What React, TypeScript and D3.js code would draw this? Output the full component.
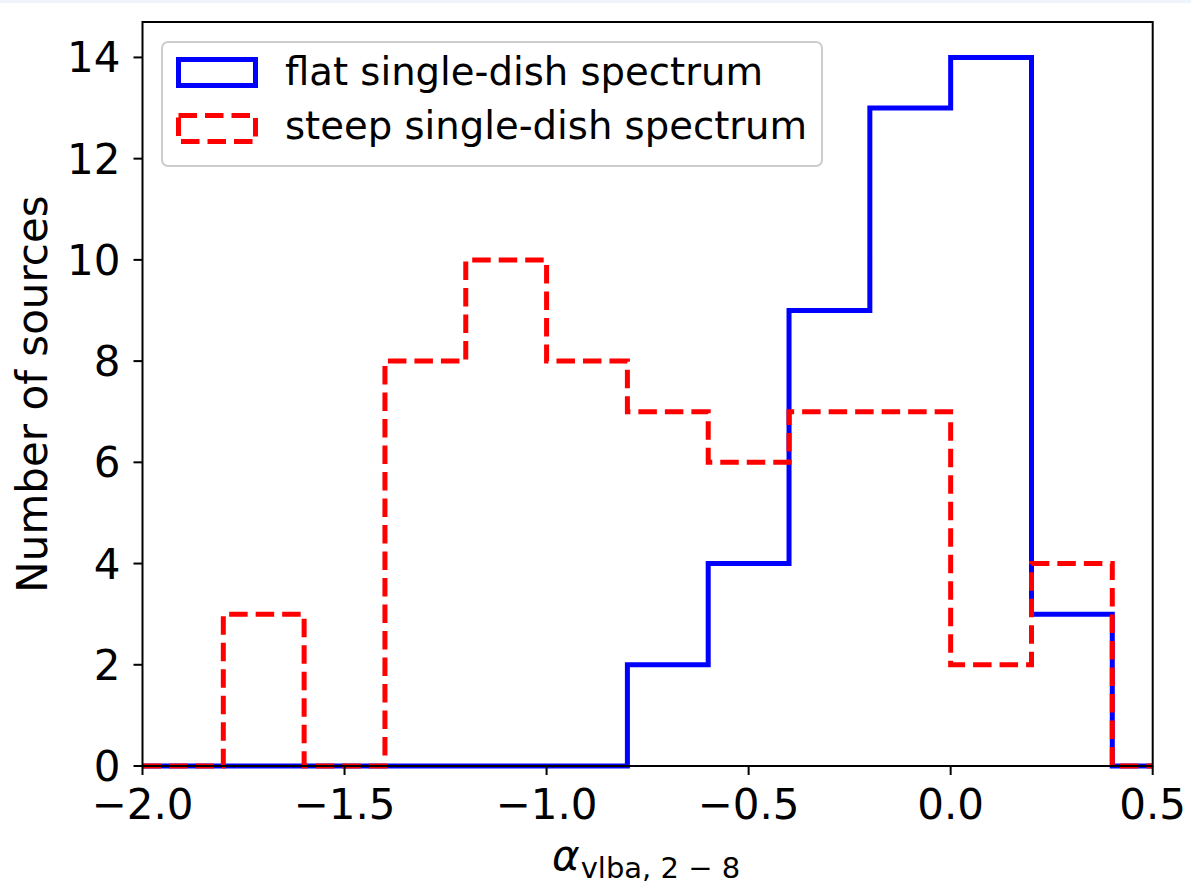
import React, { useEffect, useRef } from "react";
import * as d3 from "d3";

// histogram bins and counts
const binEdges = [-2.0, -1.8, -1.6, -1.4, -1.2, -1.0, -0.8, -0.6, -0.4, -0.2, 0.0, 0.2, 0.4, 0.6];
const flatCounts = [0, 0, 0, 0, 0, 0, 2, 4, 9, 13, 14, 3, 0];
const steepCounts = [0, 3, 0, 8, 10, 8, 7, 6, 7, 7, 2, 4, 0];
const xTicks = [-2.0, -1.5, -1.0, -0.5, 0.0, 0.5];
const yTicks = [0, 2, 4, 6, 8, 10, 12, 14];
const seriesLabels = ["flat single-dish spectrum", "steep single-dish spectrum"];

const W = 1191;
const H = 883;
const FONT = "DejaVu Sans, sans-serif";

const App = () => {
  const ref = useRef<SVGSVGElement>(null);

  useEffect(() => {
    const svg = d3.select(ref.current);
    svg.selectAll("*").remove();

    const left = 142.5, right = 1152.7, top = 22, bottom = 766;
    const x = d3.scaleLinear().domain([-2.0, 0.5]).range([left, right]);
    const y = d3.scaleLinear().domain([0, 14.7]).range([bottom, top]);

    // thin tinted strip at the very top of the image
    svg.append("rect").attr("x", 0).attr("y", 0).attr("width", W).attr("height", 3).attr("fill", "#eef4fa");

    svg.append("defs").append("clipPath").attr("id", "plotclip")
      .append("rect").attr("x", left).attr("y", top).attr("width", right - left).attr("height", bottom - top + 4);

    const stepPoints = (counts: number[]) => {
      const pts: [number, number][] = [[binEdges[0], 0]];
      counts.forEach((c, i) => {
        pts.push([binEdges[i], c]);
        pts.push([binEdges[i + 1], c]);
      });
      pts.push([binEdges[binEdges.length - 1], 0]);
      return pts;
    };

    const line = d3.line<[number, number]>().x((d) => x(d[0])).y((d) => y(d[1]));

    const plot = svg.append("g").attr("clip-path", "url(#plotclip)");
    plot.append("path")
      .attr("d", line(stepPoints(flatCounts)))
      .attr("fill", "none")
      .attr("stroke", "#0000ff")
      .attr("stroke-width", 5)
      .attr("stroke-linejoin", "miter");
    plot.append("path")
      .attr("d", line(stepPoints(steepCounts)))
      .attr("fill", "none")
      .attr("stroke", "#ff0000")
      .attr("stroke-width", 5)
      .attr("stroke-dasharray", "18.5 8")
      .attr("stroke-linejoin", "miter");

    // frame
    svg.append("rect")
      .attr("x", left).attr("y", top)
      .attr("width", right - left).attr("height", bottom - top)
      .attr("fill", "none").attr("stroke", "#000").attr("stroke-width", 2);

    // x ticks
    const xg = svg.append("g");
    xTicks.forEach((t) => {
      xg.append("line").attr("x1", x(t)).attr("x2", x(t)).attr("y1", bottom).attr("y2", bottom + 9)
        .attr("stroke", "#000").attr("stroke-width", 2);
      xg.append("text").attr("x", x(t)).attr("y", bottom + 53)
        .attr("text-anchor", "middle").attr("font-family", FONT).attr("font-size", 42)
        .text(d3.format(".1f")(t).replace("-", "\u2212"));
    });

    // y ticks
    const yg = svg.append("g");
    yTicks.forEach((t) => {
      yg.append("line").attr("x1", left - 9).attr("x2", left).attr("y1", y(t)).attr("y2", y(t))
        .attr("stroke", "#000").attr("stroke-width", 2);
      yg.append("text").attr("x", left - 22).attr("y", y(t) + 15)
        .attr("text-anchor", "end").attr("font-family", FONT).attr("font-size", 42)
        .text(String(t));
    });

    // axis labels
    svg.append("text")
      .attr("transform", `translate(47,${(top + bottom) / 2}) rotate(-90)`)
      .attr("text-anchor", "middle").attr("font-family", FONT).attr("font-size", 42)
      .text("Number of sources");

    const xl = svg.append("text")
      .attr("x", 552).attr("y", 870)
      .attr("font-family", FONT);
    xl.append("tspan").attr("font-size", 42).attr("font-style", "italic").text("\u03b1");
    xl.append("tspan").attr("font-size", 29).attr("dy", 8).attr("dx", 1).text("vlba, 2 \u2212 8");

    // legend
    const lg = svg.append("g");
    lg.append("rect")
      .attr("x", 162).attr("y", 42).attr("width", 660).attr("height", 124)
      .attr("rx", 6).attr("fill", "#fff").attr("fill-opacity", 0.8)
      .attr("stroke", "#cccccc").attr("stroke-width", 2);
    lg.append("rect")
      .attr("x", 178.5).attr("y", 59.5).attr("width", 77).attr("height", 26)
      .attr("fill", "none").attr("stroke", "#0000ff").attr("stroke-width", 5);
    lg.append("rect")
      .attr("x", 178.5).attr("y", 115.5).attr("width", 77).attr("height", 26)
      .attr("fill", "none").attr("stroke", "#ff0000").attr("stroke-width", 5)
      .attr("stroke-dasharray", "18.5 8");
    seriesLabels.forEach((s, i) => {
      lg.append("text").attr("x", 285).attr("y", 85 + i * 54)
        .attr("font-family", FONT).attr("font-size", 38.6).text(s);
    });
  }, []);

  return (
    <div style={{ position: "absolute", left: 0, top: 0 }}>
      <svg ref={ref} width={W} height={H} style={{ display: "block", background: "#fff" }}></svg>
    </div>
  );
};

export default App;
